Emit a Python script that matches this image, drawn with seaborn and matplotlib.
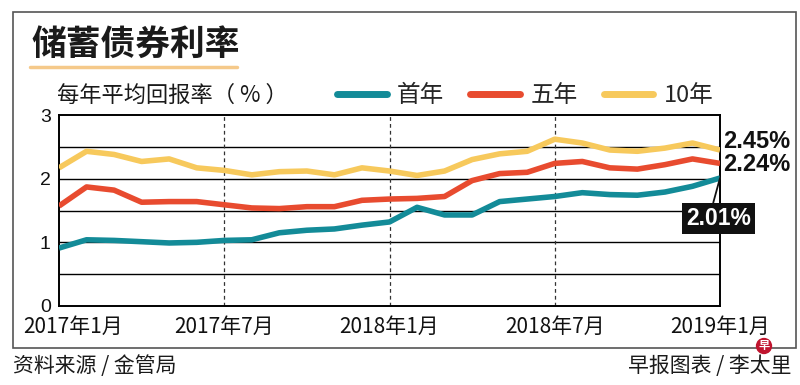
import matplotlib
matplotlib.use('Agg')
import matplotlib.pyplot as plt
import matplotlib.transforms as mtransforms
from matplotlib.patches import Rectangle
from matplotlib.lines import Line2D
import seaborn as sns
import pandas as pd

# ---------------- data ----------------
months = list(range(25))  # 2017-01 .. 2019-01, monthly
tick_pos = [0, 6, 12, 18, 24]
tick_labels = ['2017年1月', '2017年7月', '2018年1月', '2018年7月', '2019年1月']
series_names = ['首年', '五年', '10年']
first_year = [0.91, 1.04, 1.03, 1.01, 0.99, 1.00, 1.03, 1.04, 1.15, 1.19, 1.21, 1.27,
              1.32, 1.55, 1.43, 1.43, 1.64, 1.68, 1.72, 1.78, 1.75, 1.74, 1.79, 1.88, 2.01]
five_year = [1.57, 1.87, 1.82, 1.63, 1.64, 1.64, 1.59, 1.54, 1.53, 1.56, 1.56, 1.66,
             1.68, 1.69, 1.72, 1.97, 2.08, 2.10, 2.24, 2.27, 2.17, 2.15, 2.22, 2.31, 2.24]
ten_year = [2.17, 2.43, 2.38, 2.27, 2.31, 2.17, 2.13, 2.06, 2.11, 2.12, 2.06, 2.17,
            2.12, 2.05, 2.12, 2.30, 2.39, 2.43, 2.62, 2.56, 2.45, 2.43, 2.48, 2.56, 2.45]
colors = ['#138b98', '#e84b2f', '#f7c95c']

df = pd.DataFrame({
    'month': months * 3,
    'value': first_year + five_year + ten_year,
    'series': [series_names[0]] * 25 + [series_names[1]] * 25 + [series_names[2]] * 25,
})

# ---------------- style ----------------
sns.set_theme(style='white')
plt.rcParams['font.family'] = ['Noto Sans CJK SC', 'DejaVu Sans']

W, H = 800, 385
fig = plt.figure(figsize=(W / 100, H / 100), dpi=100)
fig.patch.set_facecolor('white')

def fx(px):
    return px / W

def fy(py):
    return 1 - py / H

ax = fig.add_axes([fx(59), fy(306), fx(720) - fx(59), fy(115) - fy(306)])

# grid
for yv in [0.5, 1.0, 1.5, 2.0, 2.5]:
    ax.axhline(yv, color='black', lw=1.0, zorder=1)
for xv in [6, 12, 18]:
    ax.axvline(xv, color='#333333', lw=0.9, ls=(0, (3, 2.5)), zorder=1)

sns.lineplot(data=df, x='month', y='value', hue='series', hue_order=series_names,
             palette=dict(zip(series_names, colors)), linewidth=4.0, ax=ax,
             legend=False, zorder=3)
for ln in ax.lines:
    ln.set_solid_capstyle('butt')
    ln.set_solid_joinstyle('round')

ax.set_xlim(0, 24)
ax.set_ylim(0, 3)
ax.set_xlabel('')
ax.set_ylabel('')
for s in ax.spines.values():
    s.set_color('black')
    s.set_linewidth(1.4)

ax.set_xticks(tick_pos)
ax.set_xticklabels(tick_labels, fontsize=15, color='#111111')
ax.set_yticks([0, 1, 2, 3])
ax.set_yticklabels(['0', '1', '2', '3'], fontsize=14, color='#111111',
                   family=['Liberation Sans', 'DejaVu Sans'])
ax.tick_params(axis='x', direction='out', length=5, width=1, color='#333333', pad=2)
ax.tick_params(axis='y', direction='out', length=0, pad=6)

# shift first x label right so it stays inside frame
lab0 = ax.get_xticklabels()[0]
lab0.set_transform(lab0.get_transform() + mtransforms.ScaledTranslation(14 / 100, 0, fig.dpi_scale_trans))

# end labels
num_font = ['Liberation Sans', 'DejaVu Sans']
ax.annotate('2.45%', xy=(24, ten_year[-1]), xytext=(2, 6), textcoords='offset points',
            ha='left', va='center', fontsize=17, weight='bold', family=num_font,
            color='#111111', annotation_clip=False)
ax.annotate('2.24%', xy=(24, five_year[-1]), xytext=(2, -1), textcoords='offset points',
            ha='left', va='center', fontsize=17, weight='bold', family=num_font,
            color='#111111', annotation_clip=False)
ax.annotate('2.01%', xy=(24, first_year[-1]), xytext=(-1, -29), textcoords='offset points',
            ha='center', va='center', fontsize=16.5, weight='bold', family=num_font,
            color='white', annotation_clip=False,
            bbox=dict(boxstyle='square,pad=0.18', fc='#111111', ec='none'),
            arrowprops=dict(arrowstyle='-', color='#111111', lw=1.3,
                            shrinkA=0, shrinkB=0, relpos=(0.4, 1.0)))

# legend
handles = [Line2D([0], [0], color=c, lw=5) for c in colors]
leg = fig.legend(handles, series_names, loc='center left',
                 bbox_to_anchor=(fx(337), fy(96)), ncol=3, frameon=False,
                 fontsize=17, handlelength=2.1, handletextpad=0.45,
                 columnspacing=1.1, borderpad=0, borderaxespad=0)

# title and labels
fig.text(fx(31), fy(44), '储蓄债券利率', fontsize=25, weight='black',
         color='#1a1a1a', va='center', ha='left')
fig.add_artist(Line2D([fx(30), fx(237)], [fy(67), fy(67)], color='#f5c98a', lw=2.5,
                      transform=fig.transFigure))
fig.text(fx(57), fy(95), '每年平均回报率（ % ）', fontsize=16, color='#1a1a1a',
         va='center', ha='left')

# outer frame
fig.add_artist(Rectangle((fx(13), fy(348)), fx(796) - fx(13), fy(12) - fy(348),
                         transform=fig.transFigure, fill=False, ec='#555555', lw=1.2))

# footer
fig.text(fx(13), fy(366), '资料来源 / 金管局', fontsize=15, color='#1a1a1a',
         va='center', ha='left')
fig.text(fx(764), fy(346), '早', fontsize=8, weight='bold', color='white',
         ha='center', va='center',
         bbox=dict(boxstyle='circle,pad=0.15', fc='#c0152f', ec='none'))
fig.text(fx(791), fy(366), '早报图表 / 李太里', fontsize=15, color='#1a1a1a',
         va='center', ha='right')

fig.savefig('out.png', dpi=100, facecolor='white')
